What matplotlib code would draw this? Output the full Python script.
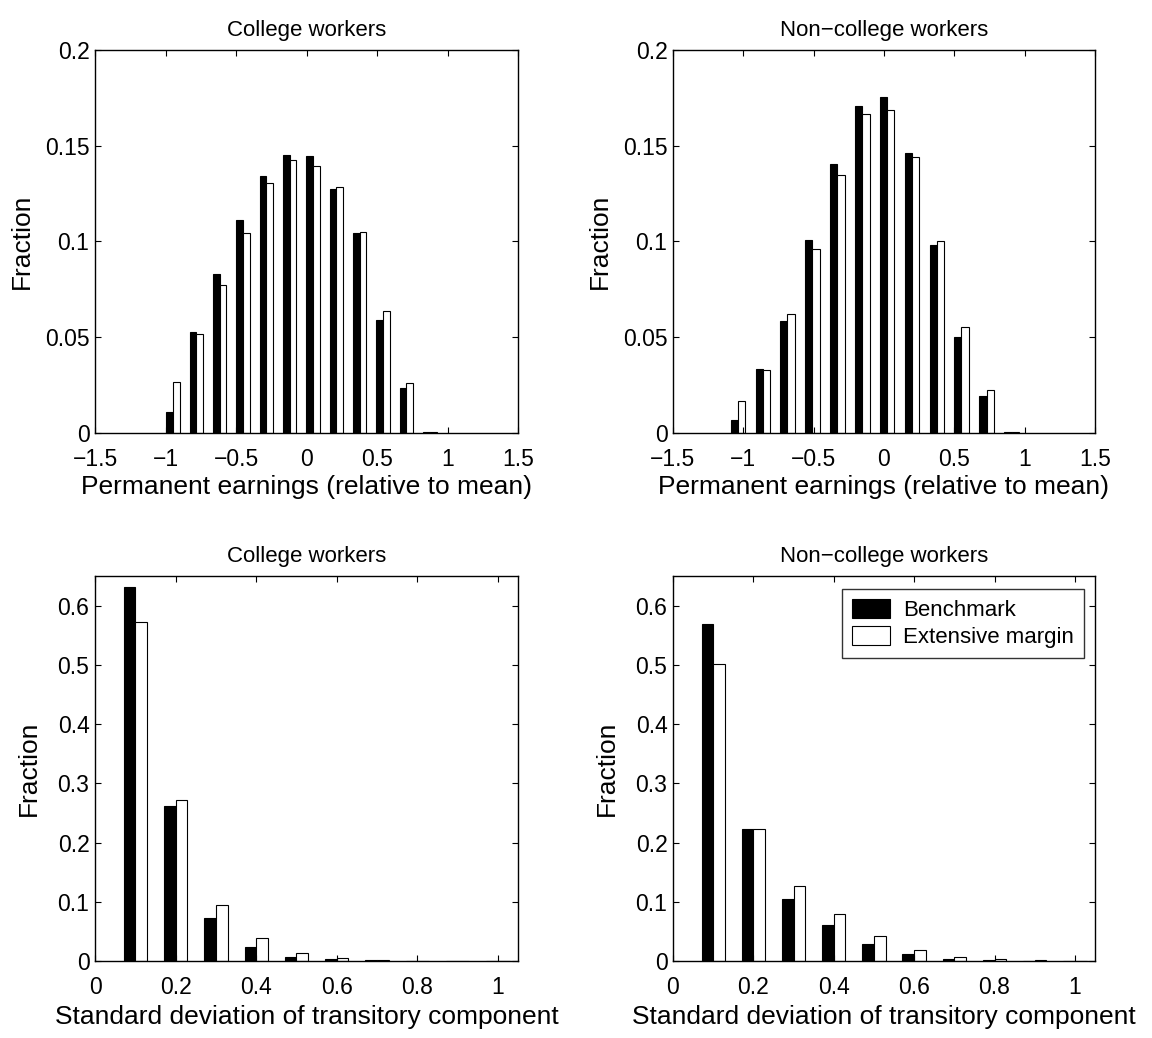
import matplotlib
matplotlib.use("Agg")
import matplotlib.pyplot as plt
from matplotlib.ticker import FixedLocator, FixedFormatter

plt.rcParams["font.family"] = ["Liberation Sans", "DejaVu Sans"]

# Permanent earnings histograms (bin centres relative to mean)
perm_centers_college = [-0.947, -0.782, -0.616, -0.450, -0.285, -0.120,
                        0.046, 0.211, 0.377, 0.543, 0.708, 0.874]
perm_bench_college = [0.0108, 0.0529, 0.0832, 0.1111, 0.1344, 0.1453,
                      0.1448, 0.1276, 0.1044, 0.0590, 0.0237, 0.0004]
perm_ext_college = [0.0268, 0.0519, 0.0773, 0.1046, 0.1304, 0.1424,
                    0.1394, 0.1283, 0.1051, 0.0639, 0.0259, 0.0003]

perm_centers_noncollege = [-1.038, -0.862, -0.686, -0.509, -0.331, -0.154,
                           0.022, 0.200, 0.378, 0.551, 0.730, 0.907]
perm_bench_noncollege = [0.0068, 0.0335, 0.0587, 0.1007, 0.1406, 0.1708,
                         0.1754, 0.1460, 0.0984, 0.0502, 0.0193, 0.0004]
perm_ext_noncollege = [0.0167, 0.0328, 0.0620, 0.0960, 0.1347, 0.1663,
                       0.1686, 0.1440, 0.1000, 0.0552, 0.0224, 0.0003]

# Standard deviation of the transitory component
sd_centers = [0.1, 0.2, 0.3, 0.4, 0.5, 0.6, 0.7, 0.8, 0.9, 1.0]
sd_bench_college = [0.632, 0.261, 0.072, 0.024, 0.007, 0.003, 0.001, 0.0004, 0.0002, 0.0001]
sd_ext_college = [0.573, 0.2725, 0.094, 0.038, 0.013, 0.005, 0.002, 0.0008, 0.0003, 0.0001]
sd_bench_noncollege = [0.569, 0.223, 0.104, 0.061, 0.029, 0.011, 0.004, 0.0015, 0.0006, 0.0002]
sd_ext_noncollege = [0.502, 0.222, 0.126, 0.079, 0.042, 0.019, 0.007, 0.0025, 0.001, 0.0003]

titles = ["College workers", "Non\u2212college workers"]
series_names = ["Benchmark", "Extensive margin"]

perm_xticks = [-1.5, -1.0, -0.5, 0.0, 0.5, 1.0, 1.5]
perm_xlabels = ["\u22121.5", "\u22121", "\u22120.5", "0", "0.5", "1", "1.5"]
perm_yticks = [0, 0.05, 0.1, 0.15, 0.2]
perm_ylabels = ["0", "0.05", "0.1", "0.15", "0.2"]
sd_xticks = [0, 0.2, 0.4, 0.6, 0.8, 1.0]
sd_xlabels = ["0", "0.2", "0.4", "0.6", "0.8", "1"]
sd_yticks = [0, 0.1, 0.2, 0.3, 0.4, 0.5, 0.6]
sd_ylabels = ["0", "0.1", "0.2", "0.3", "0.4", "0.5", "0.6"]

TICK_FS = 16.5
LABEL_FS = 19
TITLE_FS = 16

fig = plt.figure(figsize=(11.52, 10.38), dpi=100)

positions = {
    (0, 0): [0.0825, 0.5829, 0.3672, 0.3690],
    (0, 1): [0.5842, 0.5829, 0.3663, 0.3690],
    (1, 0): [0.0825, 0.0742, 0.3672, 0.3709],
    (1, 1): [0.5842, 0.0742, 0.3663, 0.3709],
}


def grouped_bars(ax, centers, bench, ext, spacing):
    w = spacing * 0.29
    xb = [c - w / 2 for c in centers]
    xe = [c + w / 2 for c in centers]
    hb = ax.bar(xb, bench, width=w, color="black", edgecolor="black",
                linewidth=0.8, label=series_names[0])
    he = ax.bar(xe, ext, width=w, color="white", edgecolor="black",
                linewidth=0.8, label=series_names[1])
    return hb, he


def style_axis(ax, xticks, xlabels, yticks, ylabels):
    ax.xaxis.set_major_locator(FixedLocator(xticks))
    ax.xaxis.set_major_formatter(FixedFormatter(xlabels))
    ax.yaxis.set_major_locator(FixedLocator(yticks))
    ax.yaxis.set_major_formatter(FixedFormatter(ylabels))
    ax.tick_params(direction="in", length=4, width=0.8, labelsize=TICK_FS,
                   top=True, right=True)
    ax.tick_params(axis="x", pad=11)
    ax.tick_params(axis="y", pad=4)
    for s in ax.spines.values():
        s.set_linewidth(1.0)
        s.set_color("black")


perm_data = [
    (perm_centers_college, perm_bench_college, perm_ext_college),
    (perm_centers_noncollege, perm_bench_noncollege, perm_ext_noncollege),
]
sd_data = [
    (sd_centers, sd_bench_college, sd_ext_college),
    (sd_centers, sd_bench_noncollege, sd_ext_noncollege),
]

for j in range(2):
    ax = fig.add_axes(positions[(0, j)])
    c, b, e = perm_data[j]
    spacing = (c[-1] - c[0]) / (len(c) - 1)
    grouped_bars(ax, c, b, e, spacing)
    ax.set_xlim(-1.5, 1.5)
    ax.set_ylim(0, 0.2)
    style_axis(ax, perm_xticks, perm_xlabels, perm_yticks, perm_ylabels)
    ax.set_title(titles[j], fontsize=TITLE_FS, pad=10)
    ax.set_xlabel("Permanent earnings (relative to mean)", fontsize=LABEL_FS, labelpad=3)
    ax.set_ylabel("Fraction", fontsize=LABEL_FS, labelpad=8)

for j in range(2):
    ax = fig.add_axes(positions[(1, j)])
    c, b, e = sd_data[j]
    hb, he = grouped_bars(ax, c, b, e, 0.1)
    ax.set_xlim(0, 1.05)
    ax.set_ylim(0, 0.65)
    style_axis(ax, sd_xticks, sd_xlabels, sd_yticks, sd_ylabels)
    ax.set_title(titles[j], fontsize=TITLE_FS, pad=10)
    ax.set_xlabel("Standard deviation of transitory component", fontsize=LABEL_FS, labelpad=4)
    ax.set_ylabel("Fraction", fontsize=LABEL_FS, labelpad=12)
    if j == 1:
        leg = ax.legend(handles=[hb, he], loc="upper right",
                        bbox_to_anchor=(0.974, 0.966), fontsize=16,
                        frameon=True, fancybox=False, borderpad=0.45,
                        handlelength=1.7, handleheight=0.95, handletextpad=0.6,
                        labelspacing=0.2, borderaxespad=0.0)
        leg.get_frame().set_edgecolor("black")
        leg.get_frame().set_linewidth(1.0)

fig.savefig("out.png", dpi=100, facecolor="white")
